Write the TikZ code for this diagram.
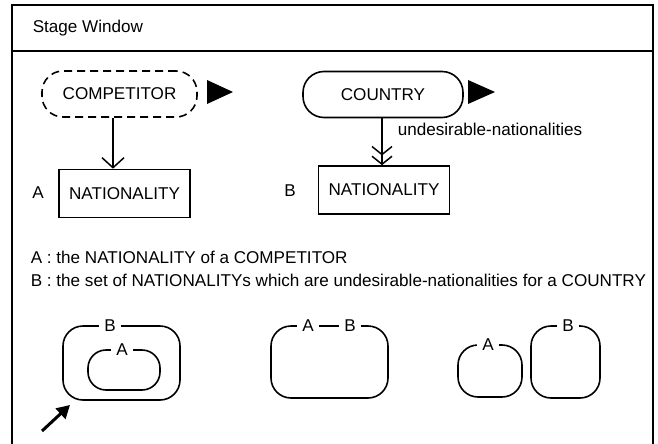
\documentclass[tikz,border=0pt]{standalone}
\usepackage{fontspec}
\setmainfont{Liberation Sans}
\usetikzlibrary{arrows.meta}
\begin{document}
\begin{tikzpicture}[x=1pt,y=-1pt,line width=1.6pt,
  every node/.style={font=\fontsize{17.1}{20}\selectfont},
  pill/.style={draw,rounded corners=21pt,minimum height=46pt,inner sep=0pt},
  entbox/.style={draw,minimum width=131pt,minimum height=48pt,inner sep=0pt},
  setbox/.style={draw,inner sep=0pt},
  setlbl/.style={fill=white,inner xsep=5pt,inner ysep=3pt},
  barb/.style={-{Straight Barb[length=10pt,width=22pt,line width=1.5pt]}},
  dbarb/.style={-{Straight Barb[length=8pt,width=20pt,line width=1.5pt] Straight Barb[length=8pt,width=20pt,line width=1.5pt]}},
  tri/.style={fill=black,draw=none}]
\useasboundingbox (0,0) rectangle (658,444);
\clip (0,0) rectangle (658,444);
% frame
\draw (12,5) rectangle (653,470);
\draw (12,51) -- (653,51);
\node[anchor=west,inner sep=0pt] (title) at (32,28) {Stage Window};
% left part
\node[pill,dash pattern=on 8pt off 5pt,minimum width=155pt] (comp) at (119.5,94) {COMPETITOR};
\fill[tri] (207,80) -- (233,92) -- (207,104) -- cycle;
\node[entbox] (natA) at (124.5,193.5) {NATIONALITY};
\node (lA) at (38,193) {A};
\coordinate (a1) at ([xshift=-6.5pt]comp.south);
\draw[barb] (a1) -- (a1 |- natA.north);
% right part
\node[pill,minimum width=160pt] (ctry) at (383,94.5) {COUNTRY};
\fill[tri] (468,80) -- (495,92) -- (468,104) -- cycle;
\node[entbox] (natB) at (384,190) {NATIONALITY};
\node (lB) at (290,191) {B};
\coordinate (b1) at ([xshift=-1pt]ctry.south);
\draw[dbarb] (b1) -- (b1 |- natB.north);
\node[anchor=west,inner sep=0pt] (rel) at (397,129) {undesirable-nationalities};
% legend
\node[anchor=west,inner sep=0pt] (defA) at (30,257) {A : the NATIONALITY of a COMPETITOR};
\node[anchor=west,inner sep=0pt] (defB) at (30,280) {B : the set of NATIONALITYs which are undesirable-nationalities for a COUNTRY};
% set diagrams
\node[setbox,rounded corners=20pt,minimum width=117pt,minimum height=74pt] (s1B) at (121.5,363) {};
\node[setlbl] at (110,326) {B};
\node[setbox,rounded corners=18pt,minimum width=72pt,minimum height=40pt] (s1A) at (124,370) {};
\node[setlbl] at (122,350) {A};
\node[setbox,rounded corners=20pt,minimum width=117pt,minimum height=72pt] (s2) at (329.5,362) {};
\node[setlbl] at (308,326) {A};
\node[setlbl] at (350,326) {B};
\node[setbox,rounded corners=20pt,minimum width=64pt,minimum height=52pt] (s3A) at (490,371) {};
\node[setlbl] at (488,345) {A};
\node[setbox,rounded corners=20pt,minimum width=69pt,minimum height=72pt] (s3B) at (565.5,362) {};
\node[setlbl] at (568,326) {B};
% pointer arrow
\coordinate (p0) at (42,431);
\coordinate (p1) at (70,405);
\draw[line width=3pt,-{Triangle[length=13pt,width=14pt]}] (p0) -- (p1);
\end{tikzpicture}
\end{document}
